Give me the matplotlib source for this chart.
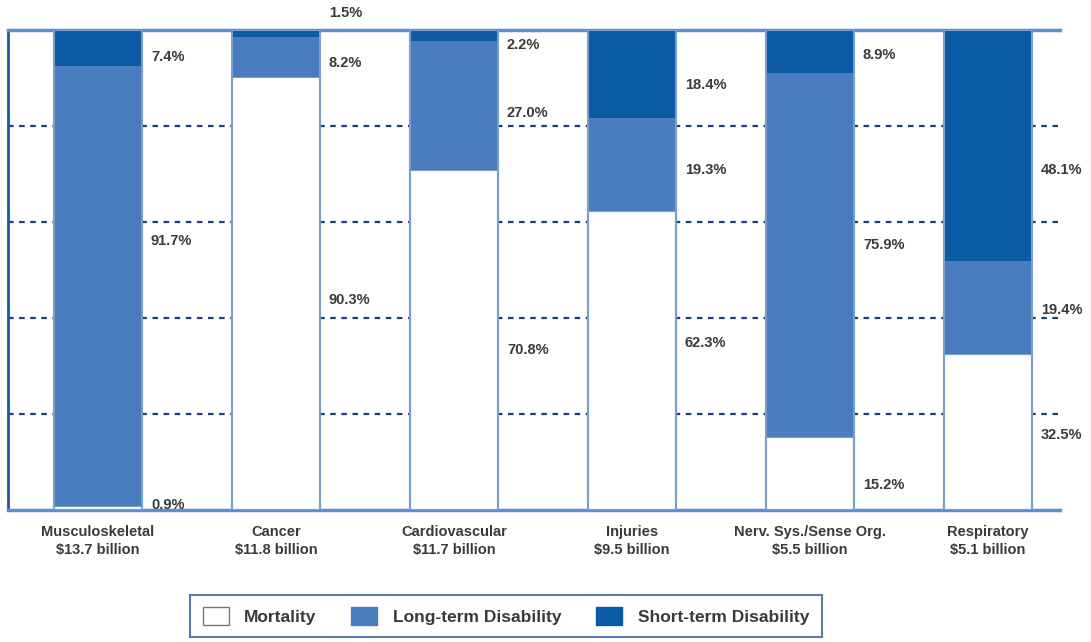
import matplotlib.pyplot as plt
import numpy as np
from matplotlib.patches import Patch

# Share of costs per condition group (percent)
categories = ['Musculoskeletal', 'Cancer', 'Cardiovascular', 'Injuries',
              'Nerv. Sys./Sense Org.', 'Respiratory']
costs = ['$13.7 billion', '$11.8 billion', '$11.7 billion', '$9.5 billion',
         '$5.5 billion', '$5.1 billion']
mortality = [0.9, 90.3, 70.8, 62.3, 15.2, 32.5]
long_term = [91.7, 8.2, 27.0, 19.3, 75.9, 19.4]
short_term = [7.4, 1.5, 2.2, 18.4, 8.9, 48.1]

# where the percent labels sit (mortality, long-term, short-term), in axis units
label_pos = [
    (1.0, 56.0, 94.4),
    (43.8, 93.1, 103.5),
    (33.3, 82.7, 96.9),
    (34.8, 70.8, 88.5),
    (5.2, 55.2, 94.8),
    (15.6, 41.7, 70.8),
]

c_mort = 'white'
c_long = '#4a7dbf'
c_short = '#0b5aa5'
edge = '#7a9fc9'
txt = '#3a3a3a'

plt.rcParams['font.family'] = ['Liberation Sans', 'DejaVu Sans']

fig = plt.figure(figsize=(10.91, 6.42), dpi=100)
ax = fig.add_axes([0.0073, 0.2056, 0.9643, 0.7477])

x = np.arange(len(categories))
w = 0.494
mort = np.array(mortality)
lt = np.array(long_term)
st = np.array(short_term)

ax.bar(x, mort, w, color=c_mort, edgecolor=edge, linewidth=1.5, zorder=3)
ax.bar(x, lt, w, bottom=mort, color=c_long, edgecolor=c_long, linewidth=0, zorder=3)
ax.bar(x, st, w, bottom=mort + lt, color=c_short, edgecolor=c_short, linewidth=0, zorder=3)
# outline of the whole column
ax.bar(x, mort + lt + st, w, fill=False, edgecolor=edge, linewidth=1.5, zorder=4)

for i in range(len(categories)):
    vals = (mortality[i], long_term[i], short_term[i])
    for v, yp in zip(vals, label_pos[i]):
        ax.text(x[i] + w / 2 + 0.05, yp, f'{v:.1f}%', ha='left', va='center',
                fontsize=10.5, fontweight='bold', color=txt, clip_on=False)

for gy in [20, 40, 60, 80]:
    ax.axhline(gy, color='#1d3f78', linestyle=(0, (2.5, 2.5)), linewidth=1.6, zorder=1)

ax.set_xlim(-0.506, 5.404)
ax.set_ylim(0, 100)
ax.set_yticks([])
ax.set_xticks(x)
ax.set_xticklabels([f'{c}\n\\{m}' for c, m in zip(categories, costs)],
                   fontsize=10.5, fontweight='bold', color=txt, linespacing=1.3)
ax.tick_params(axis='x', length=0, pad=11)

ax.spines['right'].set_visible(False)
ax.spines['left'].set_color('#1f5a9e')
ax.spines['left'].set_linewidth(2)
for s in ['top', 'bottom']:
    ax.spines[s].set_color('#5b8fcf')
    ax.spines[s].set_linewidth(2.5)

handles = [Patch(facecolor=c_mort, edgecolor='#777777', linewidth=1),
           Patch(facecolor=c_long, edgecolor=c_long),
           Patch(facecolor=c_short, edgecolor=c_short)]
leg = fig.legend(handles, ['Mortality', 'Long-term Disability', 'Short-term Disability'],
                 loc='center', bbox_to_anchor=(506 / 1091, 1 - 616 / 642), ncol=3,
                 frameon=True, fancybox=False,
                 prop={'weight': 'bold', 'size': 12.5}, handlelength=1.5, handleheight=1.2,
                 handletextpad=0.9, columnspacing=2.0, borderpad=0.7, borderaxespad=0)
leg.get_frame().set_edgecolor('#2a5d9f')
leg.get_frame().set_linewidth(1.5)
for t in leg.get_texts():
    t.set_color(txt)

fig.savefig('out.png', dpi=100)
